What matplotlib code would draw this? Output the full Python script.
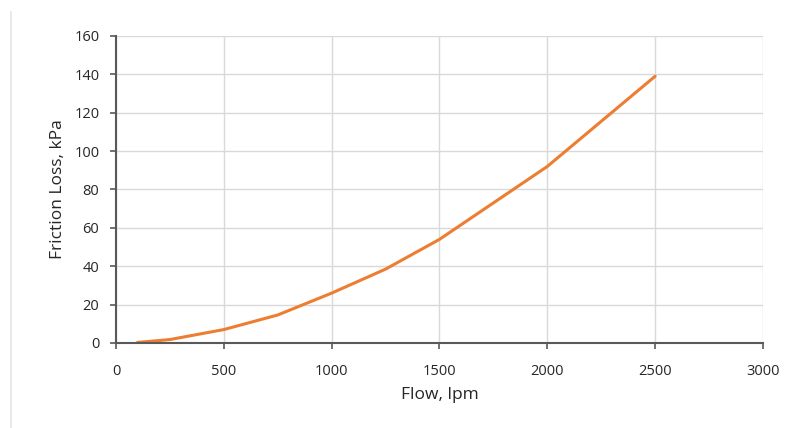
import matplotlib
matplotlib.use("Agg")
import matplotlib.pyplot as plt
from matplotlib.lines import Line2D

# data
flow = [100, 250, 500, 750, 1000, 1250, 1500, 2000, 2500]
friction_loss = [0.3, 1.8, 7, 14.6, 26, 38.5, 54, 92, 139]
x_ticks = [0, 500, 1000, 1500, 2000, 2500, 3000]
y_ticks = [0, 20, 40, 60, 80, 100, 120, 140, 160]

plt.rcParams['font.family'] = ['Open Sans', 'DejaVu Sans']

fig = plt.figure(figsize=(7.89, 4.28), dpi=100)
ax = fig.add_axes([0.147, 0.1986, 0.82, 0.7174])

ax.plot(flow, friction_loss, color='#ED7D31', linewidth=2.2, solid_capstyle='round')

ax.set_xlim(0, 3000)
ax.set_ylim(0, 160)
ax.set_xticks(x_ticks)
ax.set_yticks(y_ticks)
ax.grid(True, color='#D9D9D9', linewidth=1)
ax.set_axisbelow(True)

for side in ['top', 'right']:
    ax.spines[side].set_visible(False)
for side in ['left', 'bottom']:
    ax.spines[side].set_color('#595959')
    ax.spines[side].set_linewidth(1.5)

ax.tick_params(colors='#595959', labelcolor='#262626', labelsize=10.5, length=4, width=1.2)
ax.tick_params(axis='x', pad=11)
ax.tick_params(axis='y', pad=8)

ax.set_xlabel("Flow, lpm", fontsize=12.5, color='#262626', labelpad=6)
ax.set_ylabel("Friction Loss, kPa", fontsize=12.5, color='#262626', labelpad=6)

# thin grey border line on the left side of the image
fig.add_artist(Line2D([11 / 789, 11 / 789], [0, 1 - 12 / 428], color='#E6E6E6', linewidth=1.2))

fig.savefig("out.png", dpi=100)
